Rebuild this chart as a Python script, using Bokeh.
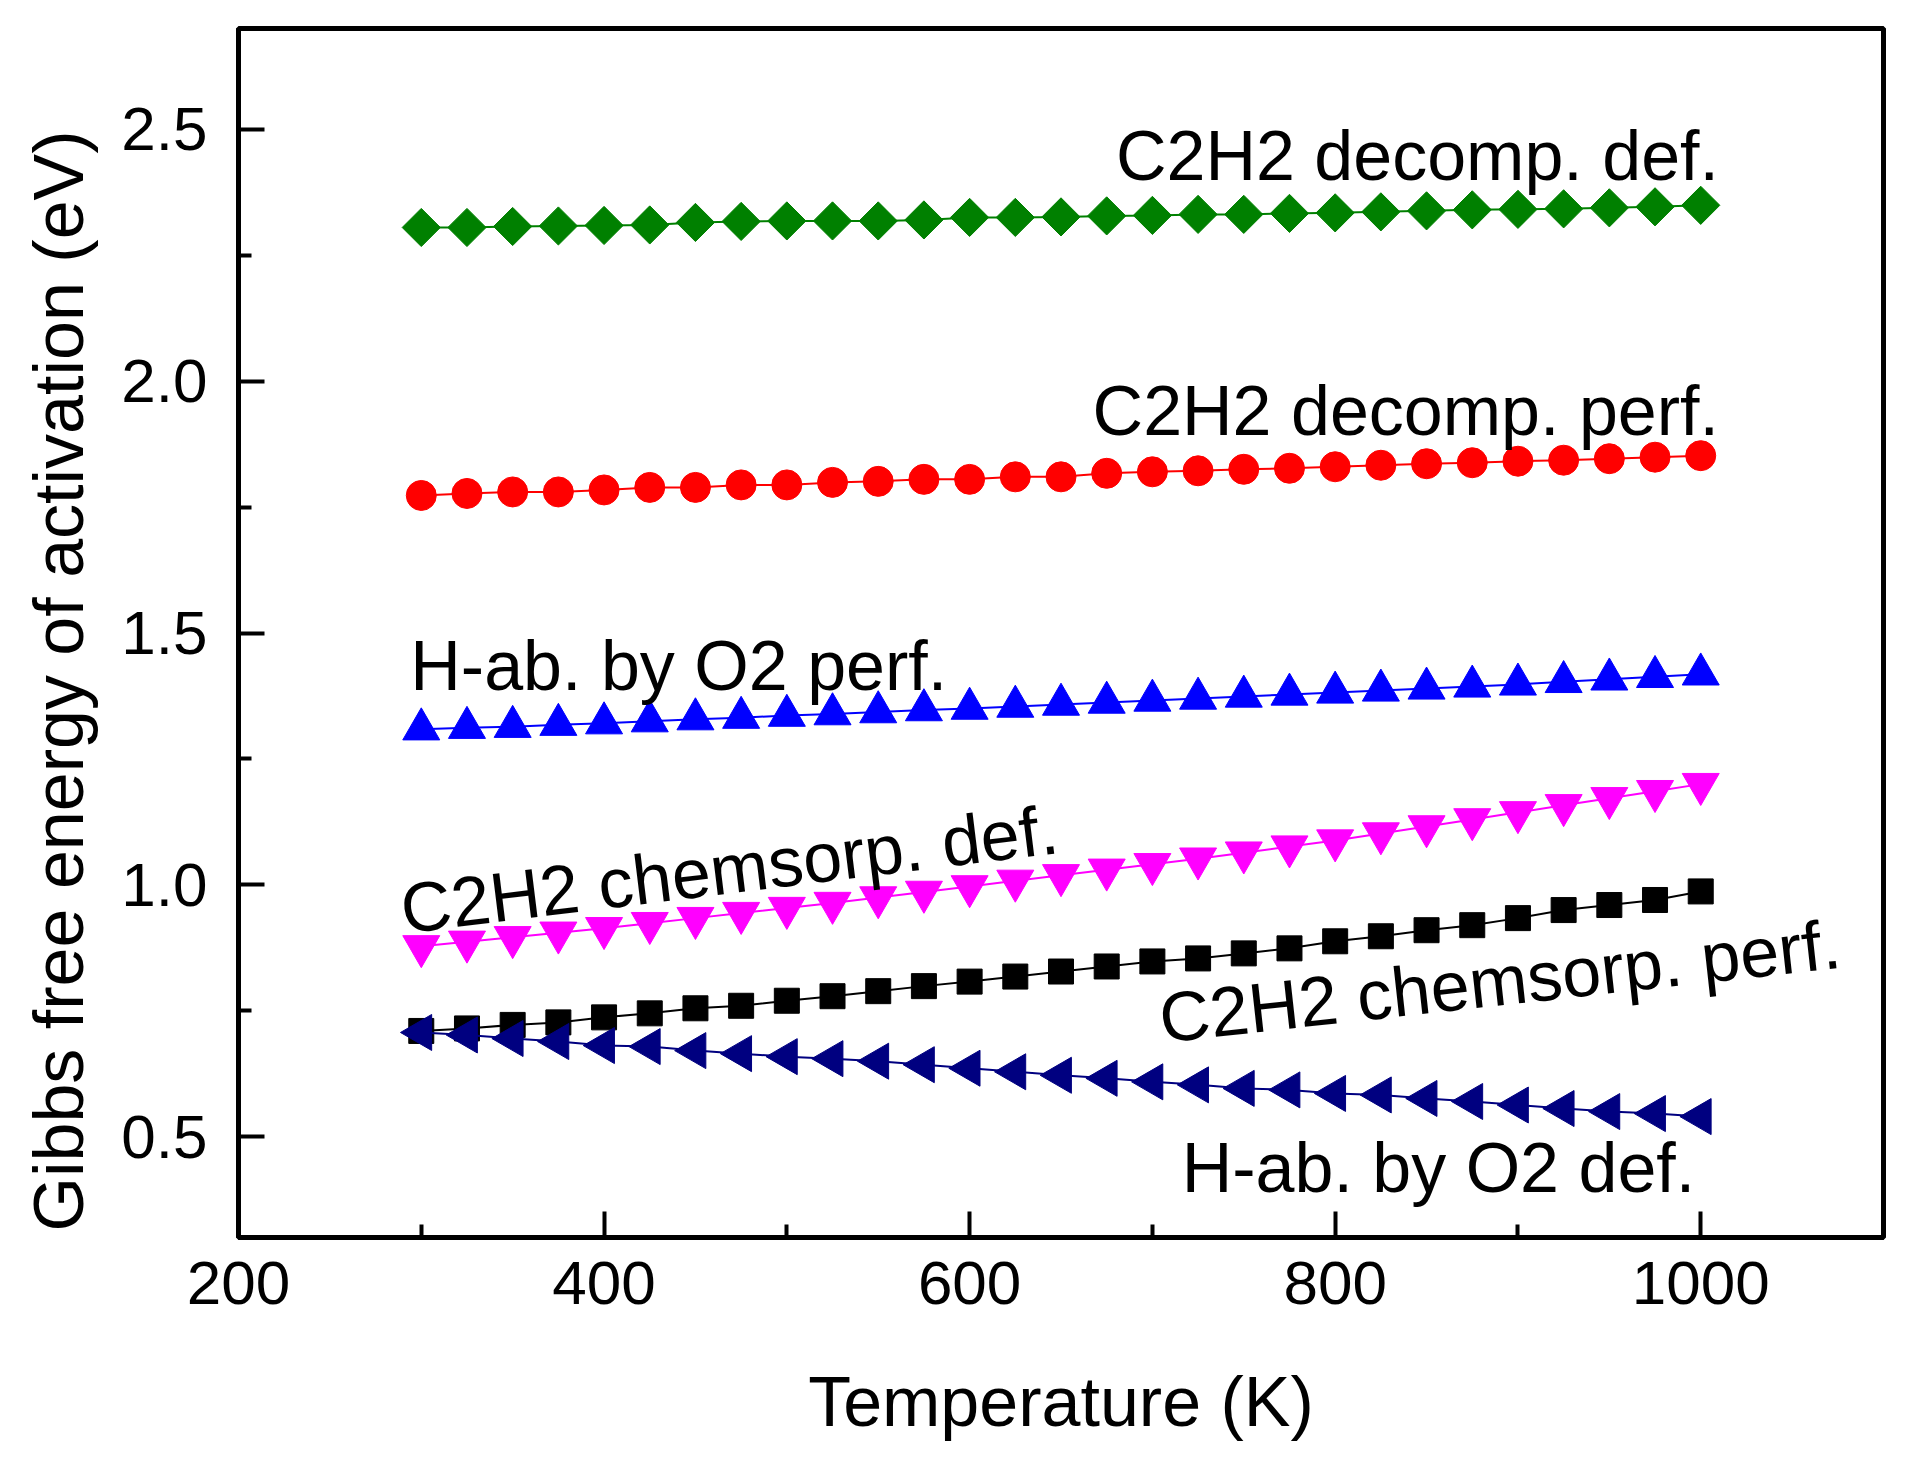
import math

from bokeh.plotting import figure
from bokeh.models import Range1d, FixedTicker, PrintfTickFormatter, Label, Title
from bokeh.embed import file_html
from bokeh.resources import INLINE

# temperatures (K)
temperature = [300, 325, 350, 375, 400, 425, 450, 475, 500, 525, 550, 575, 600, 625, 650,
               675, 700, 725, 750, 775, 800, 825, 850, 875, 900, 925, 950, 975, 1000]

# Gibbs free energy of activation (eV)
c2h2_decomp_def = [2.305, 2.305, 2.307, 2.308, 2.309, 2.310, 2.315, 2.317, 2.318, 2.318,
                   2.318, 2.320, 2.325, 2.325, 2.326, 2.328, 2.329, 2.331, 2.331, 2.333,
                   2.334, 2.336, 2.338, 2.340, 2.341, 2.342, 2.344, 2.346, 2.349]
c2h2_decomp_perf = [1.773, 1.777, 1.780, 1.780, 1.784, 1.789, 1.789, 1.794, 1.794, 1.799,
                    1.801, 1.805, 1.805, 1.810, 1.810, 1.817, 1.820, 1.822, 1.825, 1.827,
                    1.830, 1.833, 1.836, 1.838, 1.841, 1.843, 1.846, 1.849, 1.852]
hab_o2_perf = [1.309, 1.312, 1.314, 1.318, 1.321, 1.325, 1.329, 1.332, 1.336, 1.339,
               1.343, 1.347, 1.350, 1.354, 1.358, 1.362, 1.366, 1.370, 1.374, 1.378,
               1.382, 1.386, 1.390, 1.394, 1.398, 1.403, 1.408, 1.413, 1.418]
c2h2_chem_def = [0.878, 0.887, 0.896, 0.905, 0.914, 0.924, 0.934, 0.944, 0.954, 0.964,
                 0.975, 0.986, 0.997, 1.008, 1.019, 1.030, 1.041, 1.052, 1.064, 1.076,
                 1.088, 1.102, 1.116, 1.130, 1.144, 1.158, 1.172, 1.186, 1.200]
c2h2_chem_perf = [0.710, 0.715, 0.722, 0.727, 0.737, 0.745, 0.755, 0.760, 0.770, 0.779,
                  0.789, 0.799, 0.808, 0.818, 0.828, 0.838, 0.848, 0.854, 0.864, 0.874,
                  0.888, 0.898, 0.910, 0.920, 0.934, 0.950, 0.960, 0.970, 0.987]
hab_o2_def = [0.707, 0.702, 0.695, 0.689, 0.681, 0.679, 0.671, 0.665, 0.659, 0.655,
              0.650, 0.643, 0.636, 0.629, 0.622, 0.616, 0.609, 0.603, 0.596, 0.593,
              0.586, 0.583, 0.576, 0.570, 0.563, 0.556, 0.550, 0.546, 0.540]

x_ticks = [200, 400, 600, 800, 1000]
x_minor = [300, 500, 700, 900]
y_ticks = [0.5, 1.0, 1.5, 2.0, 2.5]
y_minor = [0.75, 1.25, 1.75, 2.25]

FONT = "Liberation Sans"

p = figure(width=1899, height=1453,
           x_range=Range1d(200, 1100), y_range=Range1d(0.3, 2.7),
           output_backend="svg", toolbar_location=None,
           min_border_left=236, min_border_right=16,
           min_border_top=28, min_border_bottom=216)

p.grid.visible = False
p.outline_line_color = "black"
p.outline_line_width = 5
p.background_fill_color = "white"
p.border_fill_color = "white"

# series: (values, marker, size, angle, colour)
series = [
    (c2h2_decomp_def, "square", 27, math.pi / 4, "#008000"),
    (c2h2_decomp_perf, "circle", 30, 0, "#ff0000"),
    (hab_o2_perf, "triangle", 37, 0, "#0000ff"),
    (c2h2_chem_def, "inverted_triangle", 37, 0, "#ff00ff"),
    (c2h2_chem_perf, "square", 25, 0, "#000000"),
    (hab_o2_def, "triangle", 36, math.pi / 2, "#000080"),
]

for vals, marker, size, ang, col in series:
    p.line(temperature, vals, line_color=col, line_width=2)
    p.scatter(temperature, vals, marker=marker, size=size, angle=ang,
              fill_color=col, line_color=col, line_width=1)

# axes, ticks pointing inwards
for ax in (p.xaxis[0], p.yaxis[0]):
    ax.axis_line_width = 5
    ax.axis_line_color = "black"
    ax.major_tick_in = 26
    ax.major_tick_out = 0
    ax.minor_tick_in = 13
    ax.minor_tick_out = 0
    ax.major_tick_line_width = 4
    ax.minor_tick_line_width = 4
    ax.major_tick_line_color = "black"
    ax.minor_tick_line_color = "black"
    ax.major_label_text_font = FONT
    ax.major_label_text_font_size = "62px"
    ax.major_label_text_color = "black"

p.xaxis.ticker = FixedTicker(ticks=x_ticks, minor_ticks=x_minor)
p.yaxis.ticker = FixedTicker(ticks=y_ticks, minor_ticks=y_minor)
p.yaxis.formatter = PrintfTickFormatter(format="%.1f")
p.xaxis.major_label_standoff = 24
p.yaxis.major_label_standoff = 31

p.xaxis.axis_label = "Temperature (K)"
p.xaxis.axis_label_standoff = 56
p.xaxis.axis_label_text_font = FONT
p.xaxis.axis_label_text_font_size = "70px"
p.xaxis.axis_label_text_font_style = "normal"
p.xaxis.axis_label_text_color = "black"

# y title as a side title so it can sit a little below centre, like the original
ytitle = Title(text="Gibbs free energy of activation (eV)", align="left", offset=6,
               vertical_align="top", standoff=38, text_font=FONT, text_font_size="70px",
               text_font_style="normal", text_color="black")
p.add_layout(ytitle, "left")

# curve labels: (text, x, y, align, angle in degrees)
labels = [
    ("C2H2 decomp. def.", 1010, 2.447, "right", 0),
    ("C2H2 decomp. perf.", 1010, 1.940, "right", 0),
    ("H-ab. by O2 perf.", 294, 1.434, "left", 0),
    ("C2H2 chemsorp. def.", 289, 0.951, "left", 7.0),
    ("C2H2 chemsorp. perf.", 704, 0.734, "left", 6.3),
    ("H-ab. by O2 def.", 997, 0.438, "right", 0),
]
for txt, lx, ly, al, deg in labels:
    p.add_layout(Label(x=lx, y=ly, text=txt, text_align=al, text_baseline="alphabetic",
                       angle=math.radians(deg), text_font=FONT, text_font_size="70px",
                       text_color="black"))

open("out.html", "w").write(file_html(p, INLINE))
